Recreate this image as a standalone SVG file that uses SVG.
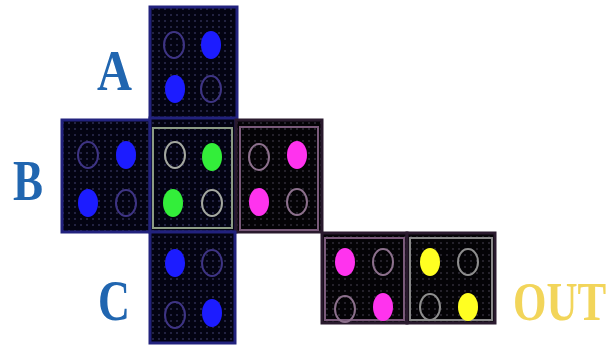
<svg xmlns="http://www.w3.org/2000/svg" width="613" height="347" viewBox="0 0 613 347">
<style>
.lbl{font-family:"Liberation Serif","Times New Roman",serif;font-weight:bold;font-size:56px}
.blue{fill:#2166b0}
.out{fill:#f2d55a;font-size:43px}
.tb{fill:url(#dotsB);stroke:#22227e;stroke-width:3}
.tk{fill:url(#dotsK);stroke:#2a1a2e;stroke-width:3}
.ob{fill:none;stroke:#3e3484;stroke-width:2}
.og{fill:none;stroke:#a4a8a0;stroke-width:2}
.om{fill:none;stroke:#8c708c;stroke-width:2}
.oy{fill:none;stroke:#8e8e8e;stroke-width:2}
.fb{fill:#1c1cff}
.fg{fill:#33ee3a}
.fm{fill:#ff33ee}
.fy{fill:#ffff22}
</style>
<defs>
<pattern id="dotsB" width="6" height="6" patternUnits="userSpaceOnUse"><rect width="6" height="6" fill="#030312"/><circle cx="3" cy="3" r="1" fill="#2c2c50"/></pattern>
<pattern id="dotsK" width="6" height="6" patternUnits="userSpaceOnUse"><rect width="6" height="6" fill="#040306"/><circle cx="3" cy="3" r="1" fill="#2e2a36"/></pattern>
</defs>
<rect width="613" height="347" fill="#ffffff"/>
<g id="tileA">
<rect class="tb" x="150" y="7" width="87" height="113"/>
<ellipse class="ob" cx="174" cy="45" rx="10" ry="13"/>
<ellipse class="fb" cx="211" cy="45" rx="10" ry="14"/>
<ellipse class="fb" cx="175" cy="89" rx="10" ry="14"/>
<ellipse class="ob" cx="211" cy="89" rx="10" ry="13"/>
</g>
<g id="tileBleft">
<rect class="tb" x="62" y="120" width="88" height="112"/>
<ellipse class="ob" cx="88" cy="155" rx="10" ry="13"/>
<ellipse class="fb" cx="126" cy="155" rx="10" ry="14"/>
<ellipse class="fb" cx="88" cy="203" rx="10" ry="14"/>
<ellipse class="ob" cx="126" cy="203" rx="10" ry="13"/>
</g>
<g id="tileBcenter">
<rect class="tb" x="150" y="118" width="86" height="114"/>
<rect x="153" y="128" width="79" height="100" fill="none" stroke="#8c9c84" stroke-width="2"/>
<ellipse class="og" cx="175" cy="155" rx="10" ry="13"/>
<ellipse class="fg" cx="212" cy="157" rx="10" ry="14"/>
<ellipse class="fg" cx="173" cy="203" rx="10" ry="14"/>
<ellipse class="og" cx="212" cy="203" rx="10" ry="13"/>
</g>
<g id="tileBright">
<rect class="tk" x="236" y="120" width="86" height="112"/>
<rect x="240" y="127" width="78" height="103" fill="none" stroke="#7a5a7a" stroke-width="2"/>
<ellipse class="om" cx="259" cy="157" rx="10" ry="13"/>
<ellipse class="fm" cx="297" cy="155" rx="10" ry="14"/>
<ellipse class="fm" cx="259" cy="202" rx="10" ry="14"/>
<ellipse class="om" cx="297" cy="202" rx="10" ry="13"/>
</g>
<g id="tileC">
<rect class="tb" x="150" y="232" width="85" height="111"/>
<ellipse class="fb" cx="175" cy="263" rx="10" ry="14"/>
<ellipse class="ob" cx="212" cy="263" rx="10" ry="13"/>
<ellipse class="ob" cx="175" cy="315" rx="10" ry="13"/>
<ellipse class="fb" cx="212" cy="313" rx="10" ry="14"/>
</g>
<g id="tileOut1">
<rect class="tk" x="322" y="233" width="85" height="90"/>
<rect x="325" y="238" width="79" height="82" fill="none" stroke="#7a5a7a" stroke-width="2"/>
<ellipse class="fm" cx="345" cy="262" rx="10" ry="14"/>
<ellipse class="om" cx="383" cy="262" rx="10" ry="13"/>
<ellipse class="om" cx="345" cy="309" rx="10" ry="13"/>
<ellipse class="fm" cx="383" cy="307" rx="10" ry="14"/>
</g>
<g id="tileOut2">
<rect class="tk" x="407" y="233" width="88" height="90"/>
<rect x="410" y="238" width="82" height="82" fill="none" stroke="#888888" stroke-width="2"/>
<ellipse class="fy" cx="430" cy="262" rx="10" ry="14"/>
<ellipse class="oy" cx="468" cy="262" rx="10" ry="13"/>
<ellipse class="oy" cx="430" cy="307" rx="10" ry="13"/>
<ellipse class="fy" cx="468" cy="307" rx="10" ry="14"/>
</g>
<g id="connectors"></g>
<g id="labels">
<text class="lbl blue" x="97" y="90" textLength="35" lengthAdjust="spacingAndGlyphs">A</text>
<text class="lbl blue" x="13" y="200" textLength="30" lengthAdjust="spacingAndGlyphs">B</text>
<text class="lbl blue" x="98" y="320" textLength="32" lengthAdjust="spacingAndGlyphs">C</text>
<text class="lbl out" x="0" y="0" transform="translate(513,320) scale(1,1.3)">OUT</text>
</g>
</svg>
